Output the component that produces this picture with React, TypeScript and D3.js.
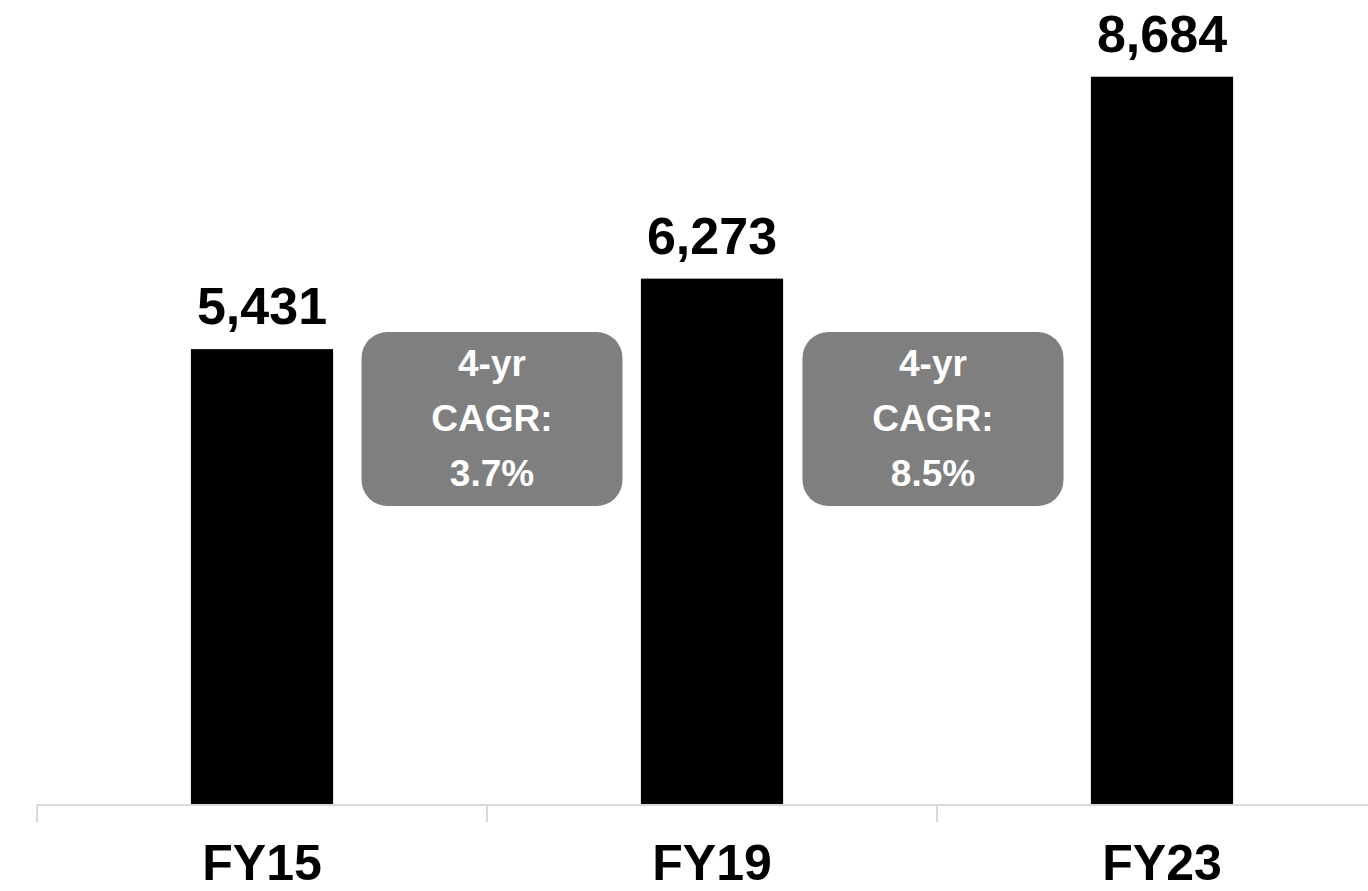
import React, { useEffect, useRef } from "react"
import * as d3 from "d3"

// ---------- Data ----------
const years = ["FY15", "FY19", "FY23"]
const values = [5431, 6273, 8684]
const cagrLabels = ["3.7%", "8.5%"]

const WIDTH = 1368
const HEIGHT = 891
const FONT = "'Liberation Sans', Arial, Helvetica, sans-serif"

const App: React.FC = () => {
    const svgRef = useRef<SVGSVGElement>(null)

    useEffect(() => {
        if (!svgRef.current) return
        const svg = d3.select(svgRef.current)
        svg.selectAll("*").remove()

        const baseline = 804

        // Scales
        const x = d3.scaleBand<string>()
            .domain(years)
            .range([37, 1387])
            .paddingInner(0.684)
            .paddingOuter(0.342)

        const y = d3.scaleLinear()
            .domain([0, 9600])
            .range([baseline, 0])

        const step = x.step()
        const bw = x.bandwidth()
        const gap = (step - bw) / 2

        // Bars
        svg.selectAll(".bar")
            .data(values)
            .enter()
            .append("rect")
            .attr("class", "bar")
            .attr("x", (_, i) => x(years[i]) ?? 0)
            .attr("y", d => y(d))
            .attr("width", bw)
            .attr("height", d => baseline - y(d))
            .attr("fill", "#000")

        // Value labels
        svg.selectAll(".val")
            .data(values)
            .enter()
            .append("text")
            .attr("class", "val")
            .attr("x", (_, i) => (x(years[i]) ?? 0) + bw / 2)
            .attr("y", d => y(d) - 25)
            .attr("text-anchor", "middle")
            .attr("font-family", FONT)
            .attr("font-weight", "bold")
            .attr("font-size", "52px")
            .attr("fill", "#000")
            .text(d => d3.format(",")(d))

        // Axis line + ticks
        const axisY = 805
        svg.append("line")
            .attr("x1", 37)
            .attr("x2", WIDTH)
            .attr("y1", axisY)
            .attr("y2", axisY)
            .attr("stroke", "#d9d9d9")
            .attr("stroke-width", 2)

        svg.selectAll(".tick")
            .data(years)
            .enter()
            .append("line")
            .attr("class", "tick")
            .attr("x1", d => (x(d) ?? 0) - gap)
            .attr("x2", d => (x(d) ?? 0) - gap)
            .attr("y1", axisY)
            .attr("y2", 822)
            .attr("stroke", "#d9d9d9")
            .attr("stroke-width", 2)

        // Category labels
        svg.selectAll(".cat")
            .data(years)
            .enter()
            .append("text")
            .attr("class", "cat")
            .attr("x", d => (x(d) ?? 0) + bw / 2)
            .attr("y", 880)
            .attr("text-anchor", "middle")
            .attr("font-family", FONT)
            .attr("font-weight", "bold")
            .attr("font-size", "50px")
            .attr("fill", "#000")
            .text(d => d)

        // CAGR boxes between bars (nudged slightly toward the middle bar)
        const boxW = 261
        const boxH = 174
        const boxTop = 332
        const nudge = [5, -4]
        cagrLabels.forEach((label, i) => {
            const cx = (x(years[i + 1]) ?? 0) - gap + nudge[i]
            const g = svg.append("g")
            g.append("rect")
                .attr("x", cx - boxW / 2)
                .attr("y", boxTop)
                .attr("width", boxW)
                .attr("height", boxH)
                .attr("rx", 26)
                .attr("fill", "#7f7f7f")
            const lines = ["4-yr", "CAGR:", label]
            lines.forEach((t, j) => {
                g.append("text")
                    .attr("x", cx)
                    .attr("y", boxTop + 44 + j * 55)
                    .attr("text-anchor", "middle")
                    .attr("font-family", FONT)
                    .attr("font-weight", "bold")
                    .attr("font-size", "37px")
                    .attr("fill", "#fff")
                    .text(t)
            })
        })
    }, [])

    return (
        <svg
            ref={svgRef}
            width={WIDTH}
            height={HEIGHT}
            style={{ position: "absolute", left: 0, top: 0, display: "block", background: "#fff" }}
        />
    )
}

export default App
